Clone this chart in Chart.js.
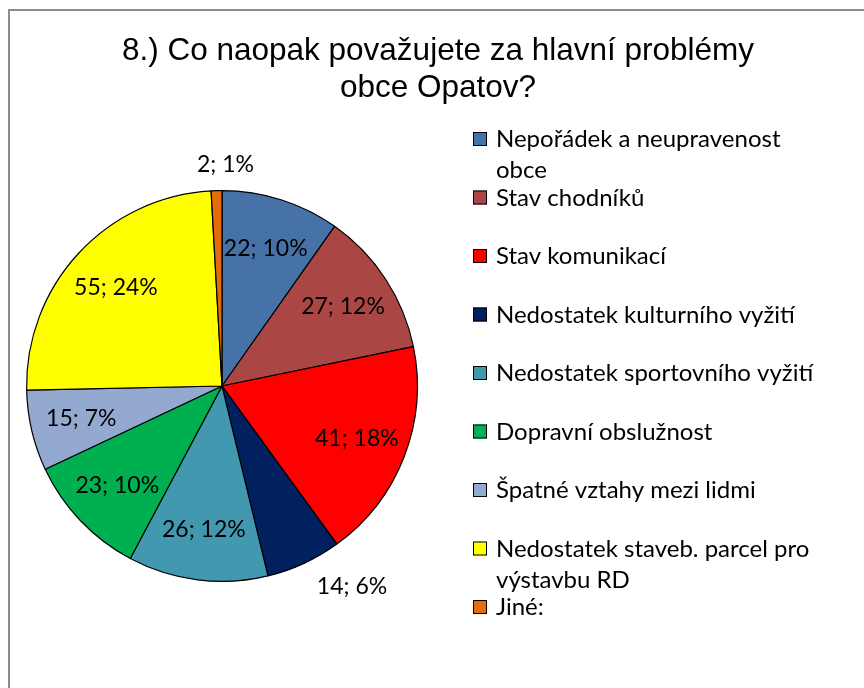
<!DOCTYPE html>
<html lang="cs">
  <head>
    <meta charset="UTF-8">
    <title>8.) Co naopak považujete za hlavní problémy obce Opatov?</title>
    <script src="https://cdn.jsdelivr.net/npm/chart.js@4.4.7/dist/chart.umd.min.js"></script>
    <style>
    body {
      margin: 0;
      background: #fff;
    }
    canvas {
      display: block;
    }
    </style>
  </head>
  <body>
    <canvas id="pieChart" width="864" height="688"></canvas>
    <script>
    const titleLines = ['8.) Co naopak považujete za hlavní problémy', 'obce Opatov?'];
    const categories = [
      'Nepořádek a neupravenost obce',
      'Stav chodníků',
      'Stav komunikací',
      'Nedostatek kulturního vyžití',
      'Nedostatek sportovního vyžití',
      'Dopravní obslužnost',
      'Špatné vztahy mezi lidmi',
      'Nedostatek staveb. parcel pro výstavbu RD',
      'Jiné:'
    ];
    const counts = [22, 27, 41, 14, 26, 23, 15, 55, 2];
    const colors = ['#4672A8', '#AA4643', '#FF0000', '#002060', '#4198AF', '#00B050', '#93A9CF', '#FFFF00', '#E46C0A'];
    const outsideLabels = [false, false, false, true, false, false, false, false, true];

    const legendFont = '24px Lato';
    const labelFont = '23px Lato';

    // frame, title and legend drawn around the pie
    const decor = {
      id: 'decor',
      beforeDraw(chart) {
        const ctx = chart.ctx;
        ctx.save();
        ctx.fillStyle = '#fff';
        ctx.fillRect(0, 0, chart.width, chart.height);
        ctx.strokeStyle = '#8c8c8c';
        ctx.lineWidth = 2;
        ctx.beginPath();
        ctx.moveTo(chart.width, 10);
        ctx.lineTo(9, 10);
        ctx.lineTo(9, chart.height);
        ctx.stroke();
        ctx.restore();
      },
      afterDraw(chart) {
        const ctx = chart.ctx;
        ctx.save();
        ctx.fillStyle = '#000';
        ctx.textAlign = 'center';
        ctx.textBaseline = 'alphabetic';
        ctx.font = '31.5px "Liberation Sans", Arial, sans-serif';
        titleLines.forEach((t, i) => ctx.fillText(t, 438, 60 + i * 37));

        // legend
        ctx.font = legendFont;
        ctx.textAlign = 'left';
        const maxW = 330;
        chart.data.labels.forEach((label, i) => {
          const base = 147 + i * 58.5;
          ctx.fillStyle = colors[i];
          ctx.fillRect(473, base - 15, 14, 14);
          ctx.strokeStyle = '#000';
          ctx.lineWidth = 1;
          ctx.strokeRect(473.5, base - 14.5, 13, 13);
          const words = label.split(' ');
          const lines = [];
          let cur = '';
          words.forEach(w => {
            const test = cur ? cur + ' ' + w : w;
            if (ctx.measureText(test).width > maxW && cur) {
              lines.push(cur);
              cur = w;
            } else {
              cur = test;
            }
          });
          lines.push(cur);
          ctx.fillStyle = '#000';
          lines.forEach((l, j) => ctx.fillText(l, 496, base + j * 31));
        });

        // data labels
        const total = counts.reduce((a, b) => a + b, 0);
        const meta = chart.getDatasetMeta(0);
        ctx.font = labelFont;
        ctx.textAlign = 'center';
        ctx.textBaseline = 'middle';
        meta.data.forEach((arc, i) => {
          const v = counts[i];
          const text = v + '; ' + Math.round(v / total * 100) + '%';
          const mid = (arc.startAngle + arc.endAngle) / 2;
          const s = Math.cos(mid), c = Math.sin(mid);
          let x, y;
          if (outsideLabels[i]) {
            const w = ctx.measureText(text).width;
            const r = arc.outerRadius + 14;
            x = arc.x + r * s + (w / 2) * Math.max(-1, Math.min(1, s * 3)) + 12 * (1 - Math.abs(s));
            y = arc.y + r * c + 12 * c;
          } else {
            const r = arc.outerRadius * 0.74;
            x = arc.x + r * s;
            y = arc.y + r * c;
          }
          ctx.fillStyle = '#000';
          ctx.fillText(text, x, y);
        });
        ctx.restore();
      }
    };

    const ctx = document.getElementById('pieChart').getContext('2d');
    const pieChart = new Chart(ctx, {
      type: 'pie',
      data: {
        labels: categories,
        datasets: [{
          data: counts,
          backgroundColor: colors,
          borderColor: '#000',
          borderWidth: 1.2
        }]
      },
      options: {
        responsive: false,
        animation: false,
        layout: {
          padding: { left: 26, top: 190, right: 446, bottom: 106 }
        },
        plugins: {
          legend: { display: false },
          title: { display: false },
          tooltip: { enabled: false }
        }
      },
      plugins: [decor]
    });
    </script>
  </body>
</html>
